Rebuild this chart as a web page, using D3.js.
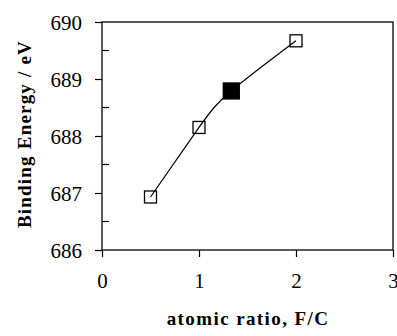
<!DOCTYPE html>
<html><head><meta charset="utf-8">
<script src="https://cdn.jsdelivr.net/npm/d3@7"></script>
<style>body{margin:0;background:#fff} text{font-family:"Liberation Serif","Times New Roman",Times,serif}</style>
</head><body>
<script>
const ratio = [0.5, 1.0, 1.333, 2.0];
const energy = [686.93, 688.15, 688.79, 689.67];
const filled = [false, false, true, false];
const xTicks = [0, 1, 2, 3];
const yTicks = [686, 687, 688, 689, 690];
const yMinor = [686.5, 687.5, 688.5, 689.5];

const W = 397, H = 336;
const L = 102, R = 393, T = 22, B = 250;
const svg = d3.select("body").append("svg").attr("width", W).attr("height", H);
const x = d3.scaleLinear().domain([0, 3]).range([L, R]);
const y = d3.scaleLinear().domain([686, 690]).range([B, T]);
const font = '"Liberation Serif","Times New Roman",Times,serif';

// frame
svg.append("rect").attr("x", L).attr("y", T).attr("width", R - L).attr("height", B - T)
  .attr("fill", "none").attr("stroke", "#000").attr("stroke-width", 1.3);

// x axis
const xa = svg.append("g").attr("transform", `translate(0,${B})`)
  .call(d3.axisBottom(x).tickValues(xTicks).tickSize(7).tickPadding(16).tickFormat(d3.format("d")));
xa.select(".domain").remove();
xa.selectAll("line").attr("stroke-width", 1.2);
xa.selectAll("text").attr("font-family", font).attr("font-size", 21).attr("fill", "#000");

// y axis
const ya = svg.append("g").attr("transform", `translate(${L},0)`)
  .call(d3.axisLeft(y).tickValues(yTicks).tickSize(7).tickPadding(13).tickFormat(d3.format("d")));
ya.select(".domain").remove();
ya.selectAll("line").attr("stroke-width", 1.2);
ya.selectAll("text").attr("font-family", font).attr("font-size", 21).attr("fill", "#000").attr("dy", "0.34em");
svg.append("g").selectAll("line").data(yMinor).join("line")
  .attr("x1", L).attr("x2", L + 7).attr("y1", d => y(d)).attr("y2", d => y(d))
  .attr("stroke", "#000").attr("stroke-width", 1.2);

// curve
const pts = ratio.map((r, i) => [r, energy[i]]);
svg.append("path").datum(pts)
  .attr("d", d3.line().x(d => x(d[0])).y(d => y(d[1])).curve(d3.curveNatural))
  .attr("fill", "none").attr("stroke", "#000").attr("stroke-width", 1.2);

// markers
svg.append("g").selectAll("rect").data(ratio.map((r, i) => ({r, e: energy[i], f: filled[i]}))).join("rect")
  .attr("x", d => x(d.r) - (d.f ? 8 : 6))
  .attr("y", d => y(d.e) - (d.f ? 8 : 6))
  .attr("width", d => d.f ? 16 : 12).attr("height", d => d.f ? 16 : 12)
  .attr("fill", d => d.f ? "#000" : "none").attr("stroke", "#000").attr("stroke-width", 1.3);

// titles
svg.append("text").attr("x", (L + R) / 2 + 0.5).attr("y", 325).attr("text-anchor", "middle")
  .attr("font-family", font).attr("font-weight", "bold").attr("font-size", 19)
  .attr("letter-spacing", 1.4).text("atomic ratio, F/C");
svg.append("text").attr("transform", `translate(31,134) rotate(-90)`).attr("text-anchor", "middle")
  .attr("font-family", font).attr("font-weight", "bold").attr("font-size", 19)
  .attr("letter-spacing", 1.2).text("Binding Energy / eV");
</script>
</body></html>
